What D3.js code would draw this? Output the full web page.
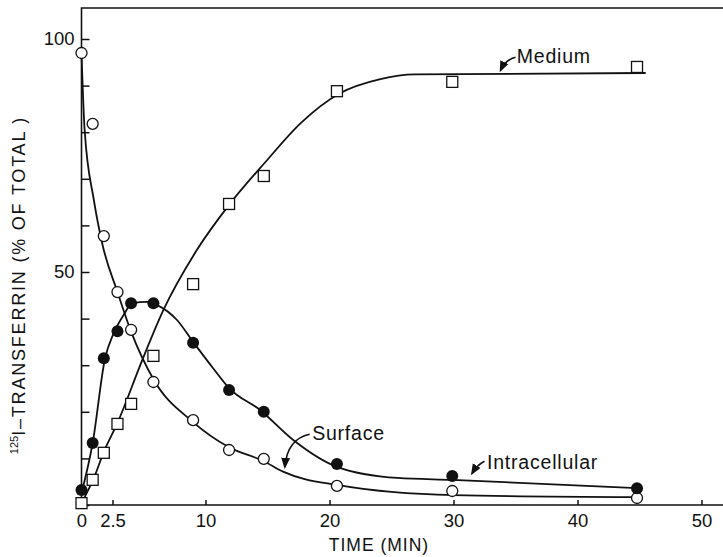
<!DOCTYPE html>
<html>
<head>
<meta charset="utf-8">
<script src="https://cdn.jsdelivr.net/npm/d3@7"></script>
<style>
  body { margin: 0; background: #fff; }
  svg { display: block; }
  text { font-family: "Liberation Sans", Arial, sans-serif; fill: #111; }
</style>
</head>
<body>
<div id="chart"></div>
<script>
// transferrin time course

var times = [0, 0.9, 1.8, 2.9, 4.0, 5.8, 9.0, 11.9, 14.7, 20.6, 29.9, 44.8];

var surface       = [97, 81.8, 57.7, 45.7, 37.6, 26.4, 18.2, 11.8, 9.9, 4.1, 3.0, 1.5];
var intracellular = [3.2, 13.3, 31.5, 37.3, 43.3, 43.3, 34.8, 24.7, 20.0, 8.8, 6.2, 3.6];
var medium        = [0.4, 5.4, 11.2, 17.4, 21.7, 32.0, 47.4, 64.6, 70.6, 88.8, 90.8, 94.0];

// hand-drawn fit curves
var surfaceFitT = [0, 0.25, 1.0, 1.7, 2.9, 4.0, 5.8, 9.0, 11.9, 14.7, 16.3, 20.6, 30, 44.8];
var surfaceFitV = [97, 80.6, 65.4, 55.8, 45.7, 37.2, 27.0, 17.8, 12.4, 9.4, 7.1, 4.3, 2.1, 1.7];

var intraFitT = [0, 0.9, 1.9, 2.6, 3.4, 4.1, 5.3, 6.1, 7.7, 9.0, 10.6, 11.9, 14.4, 17.1, 20.6, 25.5, 29.9, 44.8];
var intraFitV = [2.5, 13.3, 31.5, 36.9, 40.8, 43.3, 43.6, 42.9, 39.7, 35.0, 29.4, 25.1, 20.4, 13.9, 8.2, 5.8, 5.4, 3.6];

var mediumFitT = [0, 1.0, 1.8, 2.9, 4.9, 6.6, 9.3, 11.9, 14.8, 17.7, 20.8, 24.1, 26.9, 45.5];
var mediumFitV = [0.4, 5.8, 11.4, 17.6, 31.1, 41.8, 54.7, 64.4, 73.5, 82, 88.3, 91.4, 92.4, 92.7];

var xTicks = [0, 2.5, 10, 20, 30, 40, 50];
var yTicks = [0, 10, 20, 30, 40, 50, 60, 70, 80, 90, 100];
var yLabels = [50, 100];

var width = 723,
    height = 557;

var svg = d3.select("#chart")
    .append("svg")
    .attr("width", width)
    .attr("height", height);

var x = d3.scaleLinear().domain([0, 50]).range([81.5, 701.5]);
var y = d3.scaleLinear().domain([0, 100]).range([505, 39]);

var plotTop = 8,
    plotRight = width;

// frame: left + top + bottom (right side runs off the page)
svg.append("path")
    .attr("d", "M" + plotRight + "," + plotTop + "H" + x(0) + "V" + y(0) + "H" + plotRight)
    .attr("fill", "none")
    .attr("stroke", "#111")
    .attr("stroke-width", 1.6);

var xAxis = svg.append("g")
    .attr("transform", "translate(0," + y(0) + ")")
    .call(d3.axisBottom(x)
      .tickValues(xTicks)
      .tickSize(-5)
      .tickPadding(9)
      .tickFormat(function(d) { return d; }));

var yAxis = svg.append("g")
    .attr("transform", "translate(" + x(0) + ",0)")
    .call(d3.axisLeft(y)
      .tickValues(yTicks)
      .tickSize(-8)
      .tickPadding(7)
      .tickFormat(function(d) { return yLabels.indexOf(d) >= 0 ? d : ""; }));

[xAxis, yAxis].forEach(function(a) {
  a.select(".domain").remove();
  a.selectAll(".tick line").attr("stroke", "#111").attr("stroke-width", 1.5);
  a.selectAll(".tick text")
    .attr("font-family", "Liberation Sans, Arial, sans-serif")
    .attr("font-size", 18.5)
    .attr("fill", "#111");
});

// axis titles
svg.append("text")
    .attr("x", 379)
    .attr("y", 551)
    .attr("text-anchor", "middle")
    .attr("font-size", 17.5)
    .attr("letter-spacing", 1)
    .text("TIME (MIN)");

var yTitle = svg.append("text")
    .attr("transform", "translate(25,285) rotate(-90)")
    .attr("text-anchor", "middle")
    .attr("font-size", 18)
    .attr("letter-spacing", 1.8);
yTitle.append("tspan").attr("font-size", 11).attr("letter-spacing", 0).attr("dy", -7).text("125");
yTitle.append("tspan").attr("dy", 7).text("I\u2013TRANSFERRIN  (% OF TOTAL )");

// fit curves
var line = d3.line()
    .x(function(d) { return x(d[0]); })
    .y(function(d) { return y(d[1]); })
    .curve(d3.curveMonotoneX);

[[surfaceFitT, surfaceFitV], [intraFitT, intraFitV], [mediumFitT, mediumFitV]].forEach(function(f) {
  svg.append("path")
      .datum(d3.zip(f[0], f[1]))
      .attr("d", line)
      .attr("fill", "none")
      .attr("stroke", "#111")
      .attr("stroke-width", 1.8);
});

// markers
svg.selectAll(".sq")
    .data(d3.zip(times, medium))
    .enter().append("rect")
      .attr("class", "sq")
      .attr("x", function(d) { return x(d[0]) - 5.5; })
      .attr("y", function(d) { return y(d[1]) - 5.5; })
      .attr("width", 11)
      .attr("height", 11)
      .attr("fill", "#fff")
      .attr("stroke", "#111")
      .attr("stroke-width", 1.3);

svg.selectAll(".surf")
    .data(d3.zip(times, surface))
    .enter().append("circle")
      .attr("class", "surf")
      .attr("cx", function(d) { return x(d[0]); })
      .attr("cy", function(d) { return y(d[1]); })
      .attr("r", 5.5)
      .attr("fill", "#fff")
      .attr("stroke", "#111")
      .attr("stroke-width", 1.3);

svg.selectAll(".intra")
    .data(d3.zip(times, intracellular))
    .enter().append("circle")
      .attr("class", "intra")
      .attr("cx", function(d) { return x(d[0]); })
      .attr("cy", function(d) { return y(d[1]); })
      .attr("r", 6)
      .attr("fill", "#111");

// labels with little curved arrows
svg.append("defs").append("marker")
    .attr("id", "head")
    .attr("viewBox", "0 0 10 10")
    .attr("refX", 8).attr("refY", 5)
    .attr("markerWidth", 7).attr("markerHeight", 7)
    .attr("orient", "auto")
  .append("path")
    .attr("d", "M0,1L10,5L0,9Z")
    .attr("fill", "#111");

var notes = [
  { text: "Medium",        tx: 35.1, ty: 94.8, a: [35.0, 96.1], c: [34.2, 95.6], b: [33.8, 93.3] },
  { text: "Surface",       tx: 18.6, ty: 13.9, a: [18.4, 15.2], c: [16.6, 14.2], b: [16.4, 8.2] },
  { text: "Intracellular", tx: 32.7, ty: 7.7,  a: [32.5, 9.4],  c: [31.9, 8.6],  b: [31.5, 6.8] }
];

notes.forEach(function(n) {
  svg.append("text")
      .attr("x", x(n.tx))
      .attr("y", y(n.ty))
      .attr("font-size", 19.5)
      .attr("letter-spacing", 0.8)
      .text(n.text);
  svg.append("path")
      .attr("d", "M" + x(n.a[0]) + "," + y(n.a[1]) +
                 "Q" + x(n.c[0]) + "," + y(n.c[1]) + " " + x(n.b[0]) + "," + y(n.b[1]))
      .attr("fill", "none")
      .attr("stroke", "#111")
      .attr("stroke-width", 1.6)
      .attr("marker-end", "url(#head)");
});
</script>
</body>
</html>
